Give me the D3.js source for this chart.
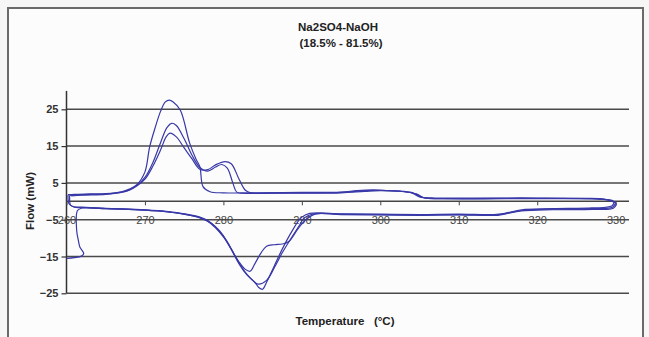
<!DOCTYPE html>
<html><head><meta charset="utf-8">
<script src="https://cdn.jsdelivr.net/npm/d3@7"></script>
<style>
html,body{margin:0;padding:0;background:#f6f6f6;}
svg{display:block;}
text{font-family:"Liberation Sans",Arial,sans-serif;}
</style></head>
<body>
<svg id="chart" width="649" height="337"></svg>
<script>
// ---- data (Temperature °C, Flow mW) ----
const titleLines = ["Na2SO4-NaOH", "(18.5% - 81.5%)"];
const xTicks = [260, 270, 280, 290, 300, 310, 320, 330];
const yTicks = [-25, -15, -5, 5, 15, 25];

// heating runs (upper branch)
const heatA = [[260.2,1.8],[261,1.9],[263,2.0],[265,2.1],[267,2.6],[268,3.3],[269,4.6],[270,8],[270.6,14.8],[271.3,20],[272,24.5],[272.6,27],[273.1,27.5],[273.6,27],[274.5,24.8],[275.7,15.8],[276.5,11.5],[277,9.4],[277.4,4],[278.3,2.6],[280,2.3],[285,2.3],[290,2.4],[295,2.5],[297,2.9],[299,3.1],[301,2.9],[303,2.7],[304.3,2.2],[305.3,1.1],[307,0.9],[315,0.9],[320,0.9],[326,0.8],[328.5,0.6],[329.8,-0.2]];
const heatB = [[260.4,1.6],[262,1.8],[265,2.0],[267,2.5],[268,3.1],[269,4.4],[270,6.5],[271,10.5],[272,16],[272.8,20],[273.4,21.2],[274,20.6],[275,17],[276,12.5],[277,9.2],[278,8.2],[279,9.3],[279.8,10],[280.5,9],[281.2,5],[281.7,2.5],[282.5,2.2],[285,2.2],[290,2.3],[295,2.4],[297.5,2.8],[299.5,3.0],[302,2.8],[304,2.3],[305,1.2],[306.5,0.8],[315,0.8],[322,0.8],[327,0.7],[329,0.4],[330,-0.4]];
const heatC = [[260.6,1.5],[262,1.7],[265,1.9],[267,2.4],[268,3.0],[269,4.2],[270,6],[271,9.5],[272,14],[272.7,17.5],[273.2,18.5],[274,17.5],[275,14.5],[276,11.5],[277,8.7],[278,8.6],[279,9.9],[280.2,10.8],[281,10.2],[282,6],[282.8,3],[283.5,2.3],[286,2.2],[290,2.2],[295,2.3],[298,2.7],[300,2.9],[303,2.6],[304.6,2.0],[305.6,0.9],[308,0.7],[316,0.7],[324,0.7],[328,0.6],[329.6,0.2],[330.1,-0.8]];

// cooling runs (lower branch, from 330 back to 260)
const coolA = [[329.8,-0.2],[329.5,-1.3],[327,-1.8],[322,-2.0],[318,-2.3],[316,-3.2],[314.5,-3.6],[310,-3.5],[305,-3.6],[300,-3.5],[295,-3.4],[291,-3.3],[290,-4.3],[289.5,-5.5],[288.5,-9],[287.5,-13],[286.5,-17.5],[285.5,-22],[285,-23.9],[284.5,-23.4],[284,-22],[283,-20],[282,-17],[281,-13],[280,-9.5],[279,-7],[278,-5.2],[277,-4.3],[275,-3.4],[273,-2.8],[270,-2.3],[265,-1.9],[262,-1.6],[260.8,-1.4],[260.3,-0.6],[260.2,0.8],[260.2,1.8]];
const coolB = [[330,-0.4],[329.6,-1.6],[327,-2.0],[322,-2.1],[318,-2.5],[316,-3.3],[314.8,-3.7],[310,-3.6],[305,-3.7],[300,-3.6],[295,-3.5],[291.5,-3.4],[290.3,-4.5],[289.7,-6.5],[288.8,-9.5],[287.5,-14],[286.5,-18],[285.5,-21.5],[284.4,-22.5],[283.5,-21],[282.5,-18.5],[281.5,-15],[280.5,-11],[279.5,-8],[278.5,-6],[277,-4.5],[275,-3.5],[273,-2.9],[270,-2.4],[265,-2.0],[262,-1.7],[261,-1.6],[260.5,-1.0],[260.4,0.5],[260.4,1.6]];
const coolC = [[330.1,-0.8],[329.7,-1.9],[327,-2.2],[322,-2.3],[318,-2.6],[316,-3.4],[315,-3.8],[310,-3.7],[305,-3.8],[300,-3.7],[295,-3.6],[291.8,-3.4],[290.5,-5],[289.5,-7.5],[288.3,-11],[287.5,-11.6],[286.5,-11.8],[285.5,-12.2],[284.8,-14],[284,-17],[283.4,-19],[282.8,-18.5],[282,-16.5],[281,-13],[280,-9.7],[279,-7.2],[278,-5.4],[277,-4.4],[275,-3.5],[273,-2.9],[270,-2.4],[265,-2.0],[262,-1.8],[261.4,-2.5],[261.3,-8],[261.5,-10.5],[261.7,-12.4],[262.2,-14.2],[261.9,-14.9],[261,-15.3],[260,-15.5]];

const runs = [heatA, heatB, heatC, coolA, coolB, coolC];

// ---- drawing ----
const svg = d3.select("#chart");
const W = 649, H = 337;
const plot = {left: 66.5, right: 629, top: 90.9, bottom: 293.3};

svg.append("rect").attr("x", 8).attr("y", 8).attr("width", 635).attr("height", 340)
  .attr("fill", "#fcfcfc").attr("stroke", "#6a6a6a").attr("stroke-width", 2);

const x = d3.scaleLinear().domain([260, 331.7]).range([plot.left, plot.right]);
const y = d3.scaleLinear().domain([-25, 30]).range([plot.bottom, plot.top]);

// gridlines
svg.append("g").selectAll("line").data(yTicks).join("line")
  .attr("x1", plot.left).attr("x2", plot.right)
  .attr("y1", d => y(d)).attr("y2", d => y(d))
  .attr("stroke", "#4a4a4a").attr("stroke-width", 1.5);

// y axis
const yAxis = svg.append("g").attr("transform", `translate(${plot.left},0)`)
  .call(d3.axisLeft(y).tickValues(yTicks).tickSize(5).tickPadding(3).tickSizeOuter(0));
yAxis.select(".domain").remove();
yAxis.append("line").attr("x1", 0).attr("x2", 0).attr("y1", plot.top).attr("y2", plot.bottom)
  .attr("stroke", "#333").attr("stroke-width", 1.5);
yAxis.selectAll(".tick line").attr("stroke", "#333").attr("stroke-width", 1.2);
yAxis.selectAll("text").attr("font-size", 11).attr("font-weight", "bold").attr("fill", "#333")
  .style("font-family", "'Liberation Sans',Arial,sans-serif");

// x axis at y=0
const xAxis = svg.append("g").attr("transform", `translate(0,${y(0)})`)
  .call(d3.axisBottom(x).tickValues(xTicks).tickSize(4).tickPadding(11).tickSizeOuter(0));
xAxis.select(".domain").attr("stroke", "#444").attr("stroke-width", 1.5)
  .attr("d", `M${plot.left},0H${plot.right}`);
xAxis.selectAll(".tick line").attr("stroke", "#444");
xAxis.selectAll("text").attr("font-size", 11).attr("fill", "#444")
  .style("font-family", "'Liberation Sans',Arial,sans-serif");

// curves
const line = d3.line().x(d => x(d[0])).y(d => y(d[1])).curve(d3.curveCatmullRom.alpha(0.5));
svg.append("g").selectAll("path").data(runs).join("path")
  .attr("d", line).attr("fill", "none")
  .attr("stroke", "#3838a8").attr("stroke-width", 1.2).attr("stroke-linejoin", "round");

// titles
svg.append("text").attr("x", 338).attr("y", 31).attr("text-anchor", "middle")
  .attr("font-size", 11.5).attr("font-weight", "bold").attr("fill", "#222").text(titleLines[0]);
svg.append("text").attr("x", 341).attr("y", 47).attr("text-anchor", "middle")
  .attr("font-size", 11.5).attr("font-weight", "bold").attr("fill", "#222").text(titleLines[1]);

svg.append("text").attr("x", 345).attr("y", 325).attr("text-anchor", "middle")
  .attr("font-size", 11.5).attr("font-weight", "bold").attr("fill", "#222")
  .style("white-space", "pre").text("Temperature   (\u00B0C)");

svg.append("text").attr("transform", "translate(34,201) rotate(-90)").attr("text-anchor", "middle")
  .attr("font-size", 11.5).attr("font-weight", "bold").attr("fill", "#222").text("Flow (mW)");
</script>
</body></html>
